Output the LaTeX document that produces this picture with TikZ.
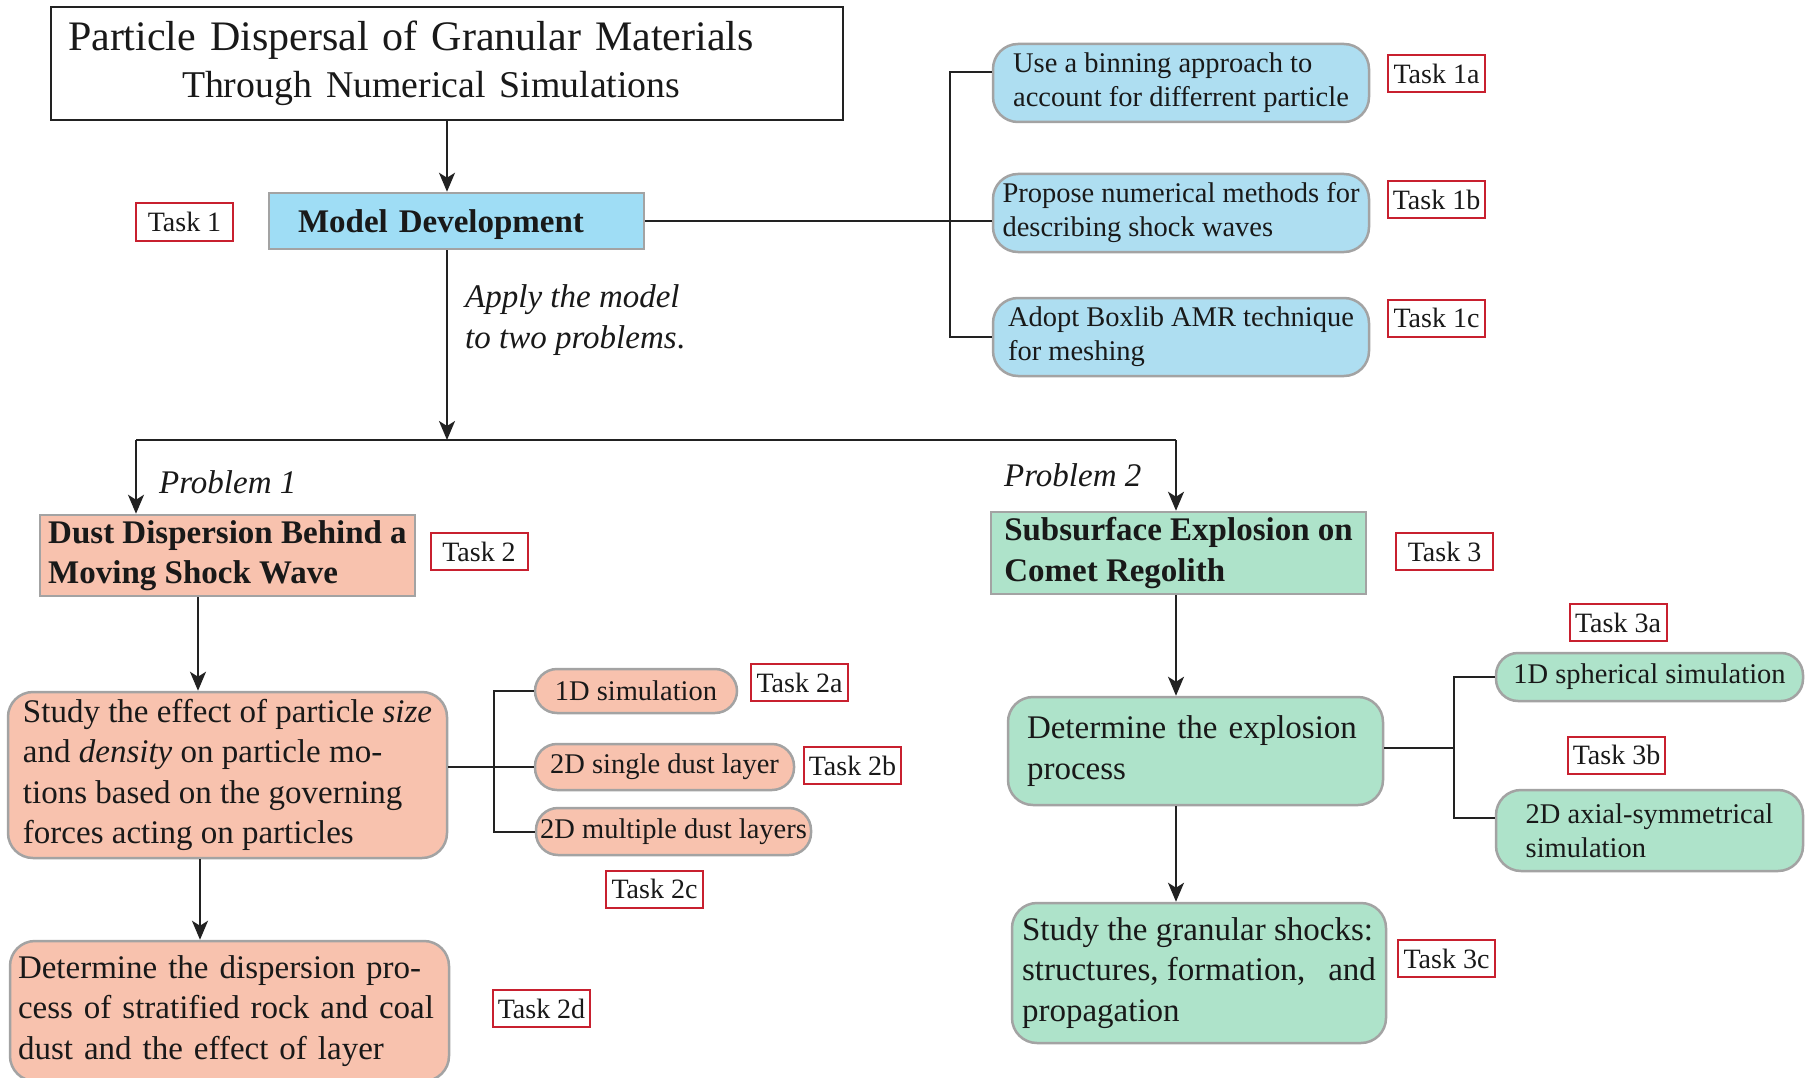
\documentclass[tikz,border=0pt]{standalone}
\usepackage{fontspec}
\setmainfont{Liberation Serif}
\usetikzlibrary{arrows.meta,calc}
\definecolor{mdblue}{HTML}{9FDDF5}
\definecolor{lblue}{HTML}{AEDEF1}
\definecolor{cpink}{HTML}{F8C2AE}
\definecolor{cgreen}{HTML}{AEE3CA}
\definecolor{tred}{HTML}{C8202F}
\definecolor{bgrey}{HTML}{A3A3A3}
\definecolor{lnc}{HTML}{222222}
\newcommand\fzT{\fontsize{42}{47}\selectfont}
\newcommand\fzTb{\fontsize{37.8}{47}\selectfont}
\newcommand\fzA{\fontsize{28.5}{34}\selectfont}
\newcommand\fzB{\fontsize{33}{40.5}\selectfont}
\begin{document}
\begin{tikzpicture}[x=1pt,y=-1pt,
  every node/.style={inner sep=0pt, text=black!90},
  task/.style={draw=tred, line width=2pt, fill=white, minimum width=97pt, minimum height=37pt, font=\fontsize{28}{30}\selectfont},
  sqbox/.style={draw=bgrey, line width=2.5pt, align=left},
  rbox/.style={draw=bgrey, line width=2.5pt, rounded corners=25pt, align=left},
  pill/.style={draw=bgrey, line width=2.5pt, rounded corners=22pt, font=\fzA},
  conn/.style={line width=2pt, draw=lnc},
  arr/.style={conn, -{Stealth[length=19pt,width=16pt,inset=5pt]}}]
\fill[white] (0,0) rectangle (1809,1078);
\useasboundingbox (0,0) rectangle (1809,1078);

% title
\node[draw=lnc, line width=2pt, text width=758pt, inner xsep=17pt, minimum height=113pt, align=left, font=\fzT] (title) at (447,63.5)
  {Particle Dispersal of Granular Materials\\\hspace*{114pt}{\fzTb Through Numerical Simulations}};

% Task 1
\node[sqbox, fill=mdblue, minimum width=375pt, minimum height=56pt, text width=317pt, inner xsep=29pt, text depth=0pt, font=\fzB\bfseries] (md) at (456.5,221) {Model Development};
\node[task] (t1) at (184.5,222) {Task 1};

\node[rbox, fill=lblue, minimum width=376pt, minimum height=78pt, font=\fzA] (s1a) at (1181,83) {Use a binning approach to\\account for differrent particle};
\node[rbox, fill=lblue, minimum width=376pt, minimum height=78pt, font=\fzA] (s1b) at (1181,213) {Propose numerical methods for\\describing shock waves};
\node[rbox, fill=lblue, minimum width=376pt, minimum height=78pt, font=\fzA] (s1c) at (1181,337) {Adopt Boxlib AMR technique\\for meshing};
\node[task] (t1a) at (1436.5,73.5) {Task 1a};
\node[task] (t1b) at (1436.5,199.5) {Task 1b};
\node[task] (t1c) at (1436.5,318) {Task 1c};

\node[anchor=west, align=left, font=\fzB\itshape] (apply) at (465,320) {Apply the model\\to two problems\upshape{.}};

% problems
\node[anchor=west, font=\fzB\itshape] (p1) at (159,482) {Problem 1};
\node[anchor=west, font=\fzB\itshape] (p2) at (1004,475) {Problem 2};

\node[sqbox, fill=cpink, minimum width=375pt, minimum height=81pt, font=\fzB\bfseries] (dust) at (227.5,555.5) {Dust Dispersion Behind a\\Moving Shock Wave};
\node[task] (t2) at (479,551.5) {Task 2};
\node[sqbox, fill=cgreen, minimum width=375pt, minimum height=82pt, font=\fzB\bfseries] (sub) at (1178.5,553) {Subsurface Explosion on\\Comet Regolith};
\node[task] (t3) at (1444.5,551.5) {Task 3};

% problem 1 subtree
\node[rbox, fill=cpink, minimum width=439pt, minimum height=166pt, font=\fzB] (study) at (227.5,775)
  {Study the effect of particle \textit{size}\\and \textit{density} on particle mo-\\tions based on the governing\\forces acting on particles};
\node[rbox, fill=cpink, minimum width=439pt, minimum height=140pt, text width=423pt, inner xsep=8pt, font=\fzB] (disp) at (229.5,1011)
  {Determine the dispersion pro-\\cess of stratified rock and coal\\dust and the effect of layer};
\node[pill, fill=cpink, minimum width=202pt, minimum height=44pt] (s2a) at (636,691) {1D simulation};
\node[pill, fill=cpink, minimum width=259pt, minimum height=46pt] (s2b) at (664.5,767) {2D single dust layer};
\node[pill, fill=cpink, minimum width=275pt, minimum height=47pt] (s2c) at (673.5,831.5) {2D multiple dust layers};
\node[task] (t2a) at (799.5,682.5) {Task 2a};
\node[task] (t2b) at (852.5,765.5) {Task 2b};
\node[task] (t2c) at (654.5,889) {Task 2c};
\node[task] (t2d) at (541.5,1008.5) {Task 2d};

% problem 2 subtree
\node[rbox, fill=cgreen, minimum width=375pt, minimum height=108pt, text width=337pt, inner xsep=19pt, font=\fzB] (expl) at (1195.5,751) {Determine the explosion\\process};
\node[rbox, fill=cgreen, minimum width=374pt, minimum height=140pt, font=\fzB] (gran) at (1199,973)
  {Study the granular shocks:\\structures, formation,\hspace{0.7em}and\\propagation};
\node[pill, fill=cgreen, minimum width=307pt, minimum height=48pt] (s3a) at (1649.5,677) {1D spherical simulation};
\node[rbox, fill=cgreen, minimum width=307pt, minimum height=81pt, font=\fzA] (s3b) at (1649.5,830.5) {2D axial-symmetrical\\simulation};
\node[task] (t3a) at (1618,622.5) {Task 3a};
\node[task] (t3b) at (1616.5,755) {Task 3b};
\node[task] (t3c) at (1446.5,958.5) {Task 3c};

% connectors
\coordinate (hl) at (136,440);
\coordinate (hr) at (1176,440);
\coordinate (b1) at (950,221);
\coordinate (b3) at (1454,748);
\draw[arr] (title.south) -- (title.south |- md.north);
\draw[arr] (title.south |- md.south) -- (title.south |- hl);
\draw[conn] (hl) -- (hr);
\draw[arr] (hl) -- (hl |- dust.north);
\draw[arr] (hr) -- (hr |- sub.north);

\draw[conn] (md.east) -- (md.east -| s1b.west);
\draw[conn] ([yshift=11pt]s1a.west) -| (b1) |- (s1c.west);

\draw[arr] ([xshift=-29.5pt]dust.south) -- ([xshift=-29.5pt]dust.south |- study.north);
\draw[arr] ([xshift=-27.5pt]study.south) -- ([xshift=-27.5pt]study.south |- disp.north);
\draw[conn] (study.east |- s2b.west) -- (s2b.west);
\draw[conn] (s2a.west) -- ++(-40,0) |- (s2c.west);

\draw[arr] (hr |- sub.south) -- (hr |- expl.north);
\draw[arr] (hr |- expl.south) -- (hr |- gran.north);
\draw[conn] (expl.east |- b3) -- (b3);
\draw[conn] (s3a.west) -| (b3) |- ([yshift=12.5pt]s3b.west);
\end{tikzpicture}
\end{document}
